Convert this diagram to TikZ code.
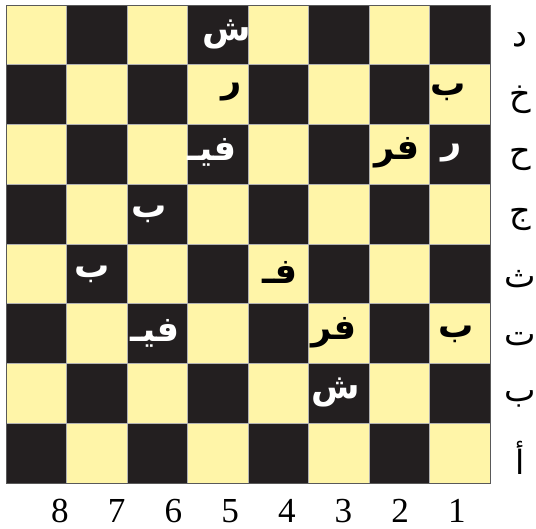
\documentclass[tikz,border=0pt]{standalone}
\usepackage{fontspec}
\setmainfont{Liberation Serif}
\newfontfamily\arabicfont[Script=Arabic]{DejaVu Sans}
\TeXXeTstate=1
\definecolor{lightsq}{RGB}{255,245,168}
\definecolor{darksq}{RGB}{35,31,32}

\begin{document}
\begin{tikzpicture}[
    x=0.02cm, y=-0.02cm,
    piece/.style={font=\arabicfont\bfseries\fontsize{20}{20}\selectfont, inner sep=0pt},
    wpiece/.style={piece, text=white},
    bpiece/.style={piece, text=black},
    rowlabel/.style={font=\arabicfont\fontsize{19}{19}\selectfont, inner sep=0pt},
    collabel/.style={font=\fontsize{20}{20}\selectfont, inner sep=0pt}
    ]

    \useasboundingbox (0,0) rectangle (536,528);

    % squares
    \foreach \c in {0,...,7} {
        \foreach \r in {0,...,7} {
            \pgfmathtruncatemacro{\s}{mod(\c+\r,2)}
            \ifodd\s \def\sq{darksq}\else \def\sq{lightsq}\fi
            \fill[\sq, draw=gray!60] ({6+60.5*\c},{5+59.75*\r}) rectangle ++(60.5,59.75);
        }
    }
    \draw[gray!70!black] (6,5) rectangle (490,483);

    % rows and columns
    \foreach \lab [count=\r from 0] in {د,خ,ح,ج,ث,ت,ب,أ}
        \node[rowlabel] (row\r) at (520,{40+59.75*\r}) {\beginR\lab\endR};
    \foreach \n [count=\k from 0] in {8,...,1}
        \node[collabel] (col\n) at ({60+56.7*\k},511) {\n};

    % pieces
    \node[wpiece] (shin5d)  at (227,34)  {\beginR ش\endR};
    \node[bpiece] (ra5kh)   at (232,92)  {\beginR ر\endR};
    \node[bpiece] (ba1kh)   at (448,92)  {\beginR ب\endR};
    \node[wpiece] (fil5h)   at (212,152) {\beginR فيـ\endR};
    \node[bpiece] (fa2h)    at (397,153) {\beginR فر\endR};
    \node[wpiece] (ra1h)    at (452,153) {\beginR ر\endR};
    \node[wpiece] (ba6j)    at (149,214) {\beginR ب\endR};
    \node[wpiece] (ba7th)   at (92,274)  {\beginR ب\endR};
    \node[bpiece] (fa4th)   at (280,272) {\beginR فـ\endR};
    \node[wpiece] (fil6t)   at (155,333) {\beginR فيـ\endR};
    \node[bpiece] (fa3t)    at (334,333) {\beginR فر\endR};
    \node[bpiece] (ba1t)    at (456,334) {\beginR ب\endR};
    \node[wpiece] (shin3b)  at (336,392) {\beginR ش\endR};

\end{tikzpicture}
\end{document}
